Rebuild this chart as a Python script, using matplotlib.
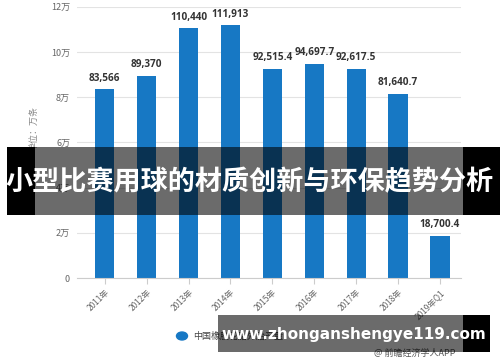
import matplotlib.pyplot as plt
from matplotlib.patches import Rectangle

plt.rcParams['font.family'] = ['Noto Sans CJK SC', 'DejaVu Sans']

categories = ["2011年", "2012年", "2013年", "2014年", "2015年",
              "2016年", "2017年", "2018年", "2019年Q1"]
values = [83566, 89370, 110440, 111913, 92515.4, 94697.7, 92617.5, 81640.7, 18700.4]
value_labels = ["83,566", "89,370", "110,440", "111,913", "92,515.4",
                "94,697.7", "92,617.5", "81,640.7", "18,700.4"]
y_ticks = [0, 20000, 40000, 60000, 80000, 100000, 120000]
y_tick_labels = ["0", "2万", "4万", "6万", "8万", "10万", "12万"]

title = "小型比赛用球的材质创新与环保趋势分析"
url = "www.zhonganshengye119.com"
legend_text = "中国橡胶轮胎外胎产量"
source = "@ 前瞻经济学人APP"
unit = "单位：万条"

BAR_COLOR = "#1778c4"

fig = plt.figure(figsize=(5, 3.62), dpi=100)
ax = fig.add_axes([0.154, 0.232, 0.768, 0.749])

x = range(len(categories))
ax.bar(x, values, width=0.46, color=BAR_COLOR, zorder=2)
for i, (v, lab) in enumerate(zip(values, value_labels)):
    ax.text(i, v + 2500, lab, ha="center", va="bottom", fontsize=7.2,
            fontweight="bold", color="#333333", family="Open Sans")

ax.set_xlim(-0.66, 8.5)
ax.set_ylim(0, 120000)
ax.set_yticks(y_ticks)
ax.set_yticklabels(y_tick_labels, fontsize=6.5, color="#666666")
ax.set_xticks(list(x))
ax.set_xticklabels(categories, rotation=45, ha="right", rotation_mode="anchor",
                   fontsize=6, color="#666666")
ax.grid(axis="y", color="#e3e3e3", linewidth=0.8, zorder=0)
for s in ["top", "right", "left"]:
    ax.spines[s].set_visible(False)
ax.spines["bottom"].set_color("#cccccc")
ax.tick_params(axis="y", length=0, pad=5)
ax.tick_params(axis="x", length=4, color="#cccccc", pad=3)
ax.set_ylabel(unit, fontsize=6.5, color="#888888")
ax.yaxis.set_label_coords(-0.1, 0.55)

# legend
fig.patches.append(plt.Circle((182 / 500, 1 - 336 / 362), 0.011, transform=fig.transFigure,
                              color=BAR_COLOR, figure=fig))
fig.text(193 / 500, 1 - 336 / 362, legend_text, fontsize=6.5, color="#444444", va="center")
fig.text(455 / 500, 1 - 353 / 362, source, fontsize=6.5, color="#555555",
         ha="right", va="center")


def frect(x0, y0, x1, y1, color, alpha):
    fig.patches.append(Rectangle((x0 / 500, 1 - y1 / 362), (x1 - x0) / 500, (y1 - y0) / 362,
                                 transform=fig.transFigure, facecolor=color,
                                 alpha=alpha, edgecolor="none", figure=fig, zorder=5))


# title banner
frect(7, 147, 35, 215, "black", 1.0)
frect(35, 147, 463, 215, "black", 0.58)
frect(463, 147, 500, 215, "black", 1.0)
fig.text(250 / 500, 1 - 182 / 362, title, fontsize=19.5, fontweight="bold",
         color="white", ha="center", va="center", zorder=6)

# url banner
frect(218, 315, 463, 352, "black", 0.58)
frect(463, 315, 490, 352, "black", 1.0)
fig.text(354 / 500, 1 - 334 / 362, url, fontsize=11, fontweight="bold",
         color="white", ha="center", va="center", zorder=6, family="DejaVu Sans")

fig.savefig("out.png", dpi=100)
